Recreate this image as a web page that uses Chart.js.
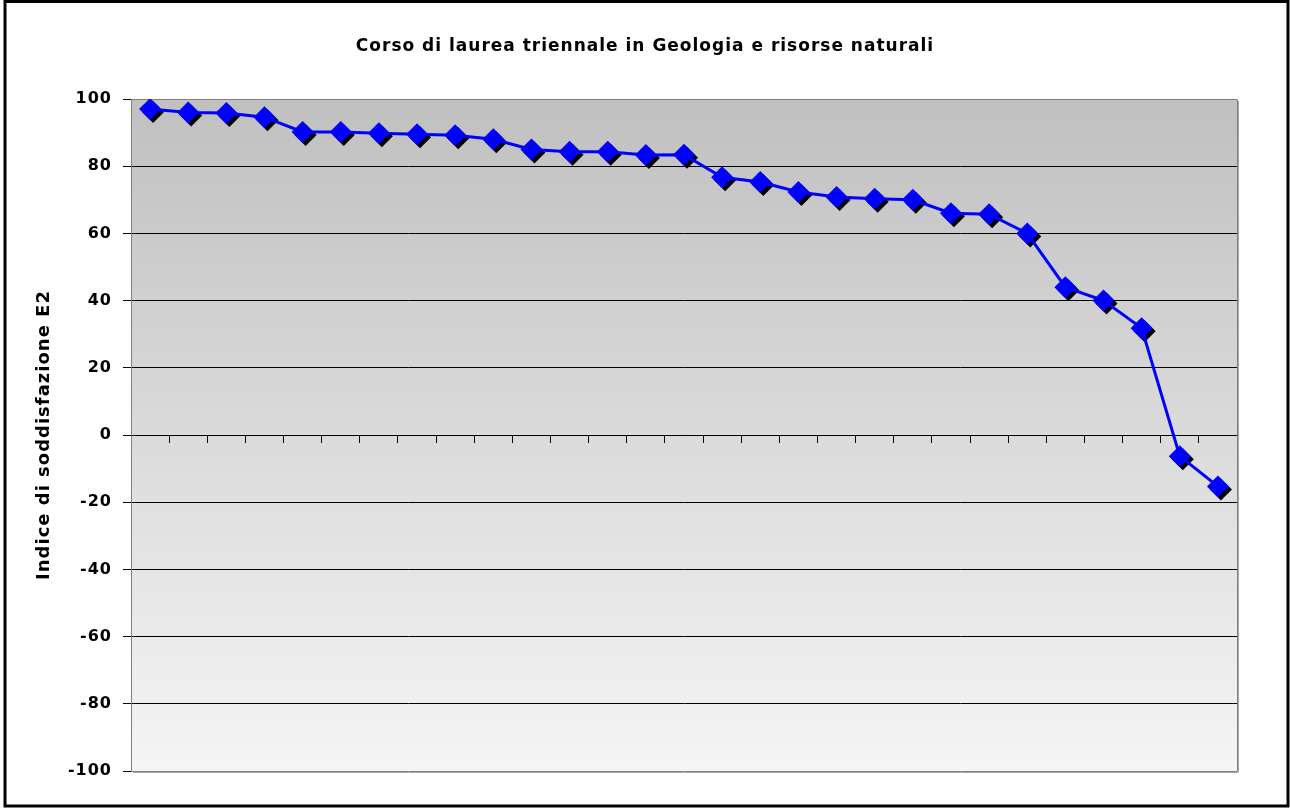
<!DOCTYPE html>
<html>
<head>
<meta charset="utf-8">
<script src="https://cdn.jsdelivr.net/npm/chart.js@4/dist/chart.umd.min.js"></script>
<style>
  html, body { margin: 0; padding: 0; background: #fff; }
  #wrap { position: relative; width: 1290px; height: 808px; }
</style>
</head>
<body>
<div id="wrap"><canvas id="c" width="1290" height="808"></canvas></div>
<script>
const chartTitle = 'Corso di laurea triennale in Geologia e risorse naturali';
const yAxisTitle = 'Indice di soddisfazione E2';
const categories = ['1','2','3','4','5','6','7','8','9','10','11','12','13','14','15',
  '16','17','18','19','20','21','22','23','24','25','26','27','28','29'];
const values = [97, 96, 95.8, 94.6, 90.2, 90.2, 89.8, 89.5, 89.2, 88, 85, 84.3, 84.3, 83.3, 83.4,
  76.7, 75.3, 72.3, 70.8, 70.3, 70, 66, 65.7, 60, 44, 40, 31.8, -6.3, -15.3];
const yMin = -100, yMax = 100, yStep = 20;

const spacingPlugin = {
  id: 'spacing',
  beforeUpdate(chart) { chart.ctx.letterSpacing = '1px'; },
  beforeLayout(chart) { chart.ctx.letterSpacing = '1px'; },
  beforeRender(chart) { chart.ctx.letterSpacing = '1px'; }
};

const framePlugin = {
  id: 'frame',
  beforeDraw(chart) {
    const ctx = chart.ctx, a = chart.chartArea;
    ctx.letterSpacing = '1px';
    ctx.save();
    ctx.fillStyle = '#fff';
    ctx.fillRect(0, 0, chart.width, chart.height);
    ctx.strokeStyle = '#000';
    ctx.lineWidth = 3;
    ctx.strokeRect(5, 1.5, 1283, 804.5);
    const g = ctx.createLinearGradient(0, a.top, 0, a.bottom);
    g.addColorStop(0, '#c0c0c0');
    g.addColorStop(1, '#f5f5f5');
    ctx.fillStyle = g;
    ctx.fillRect(a.left, a.top, a.right - a.left, a.bottom - a.top);
    ctx.strokeStyle = '#a8a8a8';
    ctx.lineWidth = 1;
    ctx.beginPath();
    ctx.moveTo(a.right + 1.5, a.top + 2);
    ctx.lineTo(a.right + 1.5, a.bottom + 1.5);
    ctx.lineTo(a.left + 2, a.bottom + 1.5);
    ctx.stroke();
    ctx.restore();
  },
  beforeDatasetsDraw(chart) {
    const ctx = chart.ctx, a = chart.chartArea;
    ctx.save();
    ctx.strokeStyle = '#808080';
    ctx.lineWidth = 1;
    ctx.beginPath();
    ctx.moveTo(a.left, a.top + 0.5);
    ctx.lineTo(a.right + 0.5, a.top + 0.5);
    ctx.lineTo(a.right + 0.5, a.bottom + 0.5);
    ctx.stroke();
    ctx.fillStyle = '#000';
    const r = 11, off = 3;
    chart.getDatasetMeta(0).data.forEach(p => {
      const x = p.x + off, y = p.y + off;
      ctx.beginPath();
      ctx.moveTo(x, y - r);
      ctx.lineTo(x + r, y);
      ctx.lineTo(x, y + r);
      ctx.lineTo(x - r, y);
      ctx.closePath();
      ctx.fill();
    });
    ctx.restore();
  }
};

new Chart(document.getElementById('c'), {
  type: 'line',
  data: {
    labels: categories,
    datasets: [{
      data: values,
      borderColor: '#0000ff',
      backgroundColor: '#0000ff',
      borderWidth: 3,
      tension: 0,
      pointStyle: 'rectRot',
      pointRadius: 11,
      pointHoverRadius: 11,
      pointBorderWidth: 0,
      pointBackgroundColor: '#0000ff',
      fill: false
    }]
  },
  options: {
    responsive: false,
    animation: false,
    events: [],
    layout: { padding: { top: 0, right: 53, bottom: 37, left: 53 } },
    plugins: {
      legend: { display: false },
      tooltip: { enabled: false },
      title: {
        display: true,
        text: chartTitle,
        color: '#000',
        font: { family: 'DejaVu Sans', size: 17, weight: 'bold', lineHeight: 1.2 },
        padding: { top: 36.8, bottom: 41.8 }
      }
    },
    scales: {
      x: {
        type: 'category',
        offset: true,
        position: { y: 0 },
        ticks: { display: false },
        grid: {
          offset: true,
          drawOnChartArea: false,
          drawTicks: true,
          tickLength: 7,
          tickColor: '#000',
          tickWidth: 1
        },
        border: { display: true, color: '#000', width: 1 }
      },
      y: {
        min: yMin,
        max: yMax,
        afterFit(scale) { scale.width = 78; },
        ticks: {
          stepSize: yStep,
          color: '#000',
          padding: 11,
          font: { family: 'DejaVu Sans', size: 16, weight: 'bold' }
        },
        grid: {
          color: ctx => (ctx.tick && (ctx.tick.value === yMax || ctx.tick.value === yMin)) ? '#808080' : '#000',
          lineWidth: 1,
          drawTicks: true,
          tickLength: 8,
          tickColor: '#000'
        },
        border: { display: true, color: '#808080', width: 1 },
        title: {
          display: true,
          text: yAxisTitle,
          color: '#000',
          font: { family: 'DejaVu Sans', size: 18, weight: 'bold', lineHeight: 1.2 },
          padding: { top: -19, bottom: 0 }
        }
      }
    }
  },
  plugins: [spacingPlugin, framePlugin]
});
</script>
</body>
</html>
